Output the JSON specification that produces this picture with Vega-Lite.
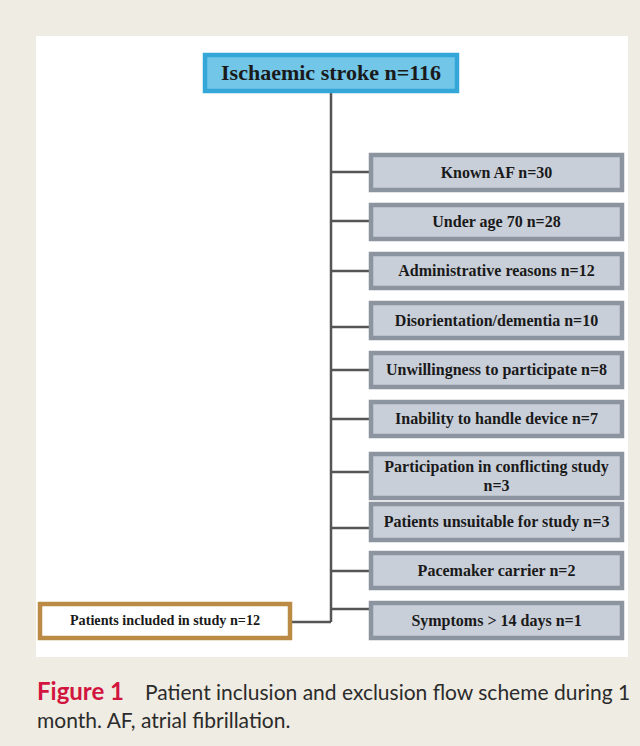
{
  "$schema": "https://vega.github.io/schema/vega-lite/v6.json",
  "width": 640,
  "height": 746,
  "padding": 0,
  "autosize": {"type": "fit", "contains": "padding"},
  "background": "#efece3",
  "config": {"view": {"stroke": null}},
  "datasets": {
    "panel": [{"x1": 36, "x2": 628, "y1": 36, "y2": 657}],
    "boxes": [
      {"kind": "source", "x1": 205, "x2": 457, "y1": 55, "y2": 91, "lines": 1, "label": "Ischaemic stroke n=116"},
      {"kind": "excluded", "x1": 371, "x2": 622, "y1": 155, "y2": 190, "lines": 1, "label": "Known AF n=30"},
      {"kind": "excluded", "x1": 371, "x2": 622, "y1": 205, "y2": 239, "lines": 1, "label": "Under age 70 n=28"},
      {"kind": "excluded", "x1": 371, "x2": 622, "y1": 254, "y2": 288, "lines": 1, "label": "Administrative reasons n=12"},
      {"kind": "excluded", "x1": 371, "x2": 622, "y1": 303, "y2": 338, "lines": 1, "label": "Disorientation/dementia n=10"},
      {"kind": "excluded", "x1": 371, "x2": 622, "y1": 353, "y2": 387, "lines": 1, "label": "Unwillingness to participate n=8"},
      {"kind": "excluded", "x1": 371, "x2": 622, "y1": 402, "y2": 436, "lines": 1, "label": "Inability to handle device n=7"},
      {"kind": "excluded", "x1": 371, "x2": 622, "y1": 454, "y2": 498, "lines": 2, "label": "Participation in conflicting study\nn=3"},
      {"kind": "excluded", "x1": 371, "x2": 622, "y1": 504, "y2": 540, "lines": 1, "label": "Patients unsuitable for study n=3"},
      {"kind": "excluded", "x1": 371, "x2": 622, "y1": 553, "y2": 588, "lines": 1, "label": "Pacemaker carrier n=2"},
      {"kind": "excluded", "x1": 371, "x2": 622, "y1": 603, "y2": 638, "lines": 1, "label": "Symptoms > 14 days n=1"},
      {"kind": "included", "x1": 40, "x2": 290, "y1": 604, "y2": 638, "lines": 1, "label": "Patients included in study n=12"}
    ],
    "links": [
      {"x1": 331, "x2": 331, "y1": 92, "y2": 622},
      {"x1": 331, "x2": 370, "y1": 172, "y2": 172},
      {"x1": 331, "x2": 370, "y1": 221, "y2": 221},
      {"x1": 331, "x2": 370, "y1": 271, "y2": 271},
      {"x1": 331, "x2": 370, "y1": 327, "y2": 327},
      {"x1": 331, "x2": 370, "y1": 370, "y2": 370},
      {"x1": 331, "x2": 370, "y1": 419, "y2": 419},
      {"x1": 331, "x2": 370, "y1": 472, "y2": 472},
      {"x1": 331, "x2": 370, "y1": 528, "y2": 528},
      {"x1": 331, "x2": 370, "y1": 571, "y2": 571},
      {"x1": 331, "x2": 370, "y1": 609, "y2": 609},
      {"x1": 291, "x2": 331, "y1": 622, "y2": 622}
    ],
    "caption": [
      {"part": "lead", "x": 37, "y": 700, "text": "Figure 1"},
      {"part": "body", "x": 145, "y": 700, "text": "Patient inclusion and exclusion flow scheme during 1"},
      {"part": "body", "x": 37, "y": 728, "text": "month. AF, atrial fibrillation."}
    ]
  },
  "layer": [
    {
      "data": {"name": "panel"},
      "mark": {"type": "rect", "fill": "#ffffff"},
      "encoding": {
        "x": {"field": "x1", "type": "quantitative", "scale": {"domain": [0, 640], "nice": false, "zero": false}, "axis": null},
        "x2": {"field": "x2"},
        "y": {"field": "y1", "type": "quantitative", "scale": {"domain": [0, 746], "nice": false, "zero": false, "reverse": true}, "axis": null},
        "y2": {"field": "y2"}
      }
    },
    {
      "data": {"name": "links"},
      "mark": {"type": "rule", "color": "#555555", "strokeWidth": 2.5},
      "encoding": {
        "x": {"field": "x1", "type": "quantitative", "scale": {"domain": [0, 640], "nice": false, "zero": false}, "axis": null},
        "x2": {"field": "x2"},
        "y": {"field": "y1", "type": "quantitative", "scale": {"domain": [0, 746], "nice": false, "zero": false, "reverse": true}, "axis": null},
        "y2": {"field": "y2"}
      }
    },
    {
      "data": {"name": "boxes"},
      "mark": {"type": "rect", "strokeWidth": 4.5},
      "encoding": {
        "x": {"field": "x1", "type": "quantitative", "scale": {"domain": [0, 640], "nice": false, "zero": false}, "axis": null},
        "x2": {"field": "x2"},
        "y": {"field": "y1", "type": "quantitative", "scale": {"domain": [0, 746], "nice": false, "zero": false, "reverse": true}, "axis": null},
        "y2": {"field": "y2"},
        "fill": {"field": "kind", "type": "nominal", "scale": {"domain": ["source", "excluded", "included"], "range": ["#72c6e8", "#c9cfd9", "#ffffff"]}, "legend": null},
        "stroke": {"field": "kind", "type": "nominal", "scale": {"domain": ["source", "excluded", "included"], "range": ["#35a6d8", "#8b949f", "#bb8a45"]}, "legend": null}
      }
    },
    {
      "data": {"name": "boxes"},
      "transform": [{"filter": "datum.kind === 'source'"}, {"calculate": "(datum.x1 + datum.x2) / 2", "as": "cx"}, {"calculate": "(datum.y1 + datum.y2) / 2", "as": "cy"}],
      "mark": {"type": "text", "font": "Liberation Serif", "fontWeight": "bold", "fontSize": 22, "color": "#1a1a1a", "align": "center", "baseline": "middle"},
      "encoding": {
        "x": {"field": "cx", "type": "quantitative", "scale": {"domain": [0, 640], "nice": false, "zero": false}, "axis": null},
        "y": {"field": "cy", "type": "quantitative", "scale": {"domain": [0, 746], "nice": false, "zero": false, "reverse": true}, "axis": null},
        "text": {"field": "label"}
      }
    },
    {
      "data": {"name": "boxes"},
      "transform": [{"filter": "datum.kind === 'excluded'"}, {"calculate": "(datum.x1 + datum.x2) / 2", "as": "cx"}, {"calculate": "(datum.y1 + datum.y2) / 2 - (datum.lines - 1) * 9.5", "as": "cy"}],
      "mark": {"type": "text", "font": "Liberation Serif", "fontWeight": "bold", "fontSize": 16, "color": "#1a1a1a", "align": "center", "baseline": "middle", "lineBreak": "\n", "lineHeight": 19},
      "encoding": {
        "x": {"field": "cx", "type": "quantitative", "scale": {"domain": [0, 640], "nice": false, "zero": false}, "axis": null},
        "y": {"field": "cy", "type": "quantitative", "scale": {"domain": [0, 746], "nice": false, "zero": false, "reverse": true}, "axis": null},
        "text": {"field": "label"}
      }
    },
    {
      "data": {"name": "boxes"},
      "transform": [{"filter": "datum.kind === 'included'"}, {"calculate": "(datum.x1 + datum.x2) / 2", "as": "cx"}, {"calculate": "(datum.y1 + datum.y2) / 2", "as": "cy"}],
      "mark": {"type": "text", "font": "Liberation Serif", "fontWeight": "bold", "fontSize": 14.2, "color": "#1a1a1a", "align": "center", "baseline": "middle"},
      "encoding": {
        "x": {"field": "cx", "type": "quantitative", "scale": {"domain": [0, 640], "nice": false, "zero": false}, "axis": null},
        "y": {"field": "cy", "type": "quantitative", "scale": {"domain": [0, 746], "nice": false, "zero": false, "reverse": true}, "axis": null},
        "text": {"field": "label"}
      }
    },
    {
      "data": {"name": "caption"},
      "transform": [{"filter": "datum.part === 'lead'"}],
      "mark": {"type": "text", "font": "Lato", "fontWeight": "bold", "color": "#d2153f", "align": "left", "baseline": "alphabetic", "fontSize": 24, "letterSpacing": 1},
      "encoding": {
        "x": {"field": "x", "type": "quantitative", "scale": {"domain": [0, 640], "nice": false, "zero": false}, "axis": null},
        "y": {"field": "y", "type": "quantitative", "scale": {"domain": [0, 746], "nice": false, "zero": false, "reverse": true}, "axis": null},
        "text": {"field": "text"}
      }
    },
    {
      "data": {"name": "caption"},
      "transform": [{"filter": "datum.part === 'body'"}],
      "mark": {"type": "text", "font": "Lato", "color": "#2b2b2b", "align": "left", "baseline": "alphabetic", "fontSize": 21},
      "encoding": {
        "x": {"field": "x", "type": "quantitative", "scale": {"domain": [0, 640], "nice": false, "zero": false}, "axis": null},
        "y": {"field": "y", "type": "quantitative", "scale": {"domain": [0, 746], "nice": false, "zero": false, "reverse": true}, "axis": null},
        "text": {"field": "text"}
      }
    }
  ]
}
